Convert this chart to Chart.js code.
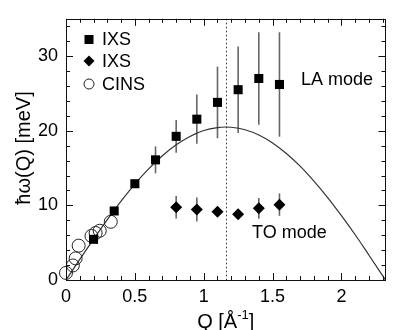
<!DOCTYPE html>
<html>
<head>
<meta charset="utf-8">
<script src="https://cdn.jsdelivr.net/npm/chart.js@4/dist/chart.umd.min.js"></script>
<style>
html,body{margin:0;padding:0;background:#fff;}
#wrap{width:393px;height:330px;}
</style>
</head>
<body>
<div id="wrap"><canvas id="c" width="393" height="330"></canvas></div>
<script>
// ---- data ----
const laQ   = [0.20, 0.35, 0.50, 0.65, 0.80, 0.95, 1.10, 1.25, 1.40, 1.55];
const laE   = [5.45, 9.25, 12.9, 16.1, 19.25, 21.55, 23.8, 25.5, 27.0, 26.2];
const laErr = [0, 0, 0, 1.8, 2.2, 3.3, 4.8, 5.8, 6.2, 7.0];

const toQ   = [0.80, 0.95, 1.10, 1.25, 1.40, 1.55];
const toE   = [9.75, 9.45, 9.15, 8.8, 9.6, 10.1];
const toErr = [1.5, 1.6, 0, 0, 1.4, 1.5];

const cinsQ = [0.0, 0.05, 0.07, 0.092, 0.185, 0.215, 0.245, 0.325];
const cinsE = [0.95, 1.95, 2.9, 4.6, 5.9, 6.3, 6.6, 7.8];

const curveQ = [0, 0.1, 0.2, 0.3, 0.4, 0.5, 0.6, 0.7, 0.8, 0.9, 1.0, 1.1, 1.16, 1.2, 1.3, 1.4, 1.5, 1.6, 1.7, 1.8, 1.9, 2.0, 2.1, 2.2, 2.3, 2.32];
const curveE = [0, 2.77, 5.48, 8.10, 10.57, 12.85, 14.88, 16.65, 18.11, 19.24, 20.03, 20.43, 20.5, 20.47, 20.13, 19.43, 18.37, 16.95, 15.25, 13.25, 11.05, 8.62, 6.06, 3.32, 0.56, 0];

const zoneBoundaryQ = 1.16;

const xTickValues = [0, 0.5, 1, 1.5, 2];
const xTickLabels = ["0", "0.5", "1", "1.5", "2"];
const yTickValues = [0, 10, 20, 30];
const yTickLabels = ["0", "10", "20", "30"];

const legendLabels = ["IXS", "IXS", "CINS"];
const laLabel = "LA mode";
const toLabel = "TO mode";
const yTitle = "ħω(Q) [meV]";

const FONT = "'Liberation Sans', Arial, Helvetica, sans-serif";

const pts = (xs, ys, es) => xs.map((x, i) => ({x: x, y: ys[i], err: es ? es[i] : 0}));

const overlay = {
  id: 'overlay',
  beforeDatasetsDraw(chart) {
    const ctx = chart.ctx, xs = chart.scales.x, ys = chart.scales.y, a = chart.chartArea;
    ctx.save();
    ctx.strokeStyle = '#222';
    ctx.lineWidth = 1;
    ctx.setLineDash([1.5, 2.5]);
    const xb = Math.round(xs.getPixelForValue(zoneBoundaryQ)) + 0.5;
    ctx.beginPath(); ctx.moveTo(xb, a.top); ctx.lineTo(xb, a.bottom); ctx.stroke();
    ctx.setLineDash([]);
    ctx.strokeStyle = '#666';
    ctx.lineWidth = 1.6;
    [1, 2].forEach(di => {
      chart.data.datasets[di].data.forEach(p => {
        if (!p.err) return;
        const px = xs.getPixelForValue(p.x);
        ctx.beginPath();
        ctx.moveTo(px, ys.getPixelForValue(p.y - p.err));
        ctx.lineTo(px, ys.getPixelForValue(p.y + p.err));
        ctx.stroke();
      });
    });
    ctx.restore();
  },
  afterDraw(chart) {
    const ctx = chart.ctx, xs = chart.scales.x, ys = chart.scales.y, a = chart.chartArea;
    ctx.save();
    ctx.strokeStyle = '#111';
    ctx.lineWidth = 1;
    ctx.strokeRect(Math.round(a.left) + 0.5, Math.round(a.top) + 0.5,
                   Math.round(a.right - a.left) - 1, Math.round(a.bottom - a.top));
    const tick = (x1, y1, x2, y2) => { ctx.beginPath(); ctx.moveTo(x1, y1); ctx.lineTo(x2, y2); ctx.stroke(); };
    for (let i = 0; i <= 23; i++) {
      const v = i / 10;
      const major = i % 5 === 0;
      const L = major ? 7 : 4;
      const px = Math.round(xs.getPixelForValue(v)) + 0.5;
      if (px > a.right) continue;
      tick(px, a.bottom, px, a.bottom - L);
      tick(px, a.top, px, a.top + L);
    }
    for (let v = 0; v <= 35; v += 2) {
      const major = v % 10 === 0;
      const L = major ? 7 : 4;
      const py = Math.round(ys.getPixelForValue(v)) + 0.5;
      tick(a.left, py, a.left + L, py);
      tick(a.right, py, a.right - L, py);
    }
    // legend
    ctx.fillStyle = '#000';
    const lx = 89;
    const ly = [39.5, 61, 84];
    ctx.fillRect(lx - 4.5, ly[0] - 4.5, 9, 9);
    ctx.beginPath();
    ctx.moveTo(lx - 5.5, ly[1]); ctx.lineTo(lx, ly[1] - 5.5); ctx.lineTo(lx + 5.5, ly[1]); ctx.lineTo(lx, ly[1] + 5.5);
    ctx.closePath(); ctx.fill();
    ctx.strokeStyle = '#222'; ctx.lineWidth = 1;
    ctx.beginPath(); ctx.arc(lx, ly[2], 5, 0, Math.PI * 2); ctx.stroke();
    ctx.font = '18px ' + FONT;
    ctx.textBaseline = 'middle';
    ctx.textAlign = 'left';
    legendLabels.forEach((t, i) => ctx.fillText(t, 102, ly[i] + 1));
    ctx.fillText(laLabel, 301, 80);
    ctx.fillText(toLabel, 252, 233);
    // x title with superscript
    ctx.textBaseline = 'alphabetic';
    const base = 328;
    const part1 = 'Q [Å', sup = '-1', part3 = ']';
    ctx.font = '20px ' + FONT;
    const w1 = ctx.measureText(part1).width, w3 = ctx.measureText(part3).width;
    ctx.font = '13px ' + FONT;
    const w2 = ctx.measureText(sup).width;
    let x0 = (a.left + a.right) / 2 - (w1 + w2 + w3) / 2;
    ctx.font = '20px ' + FONT;
    ctx.fillText(part1, x0, base);
    ctx.font = '13px ' + FONT;
    ctx.fillText(sup, x0 + w1, base - 9);
    ctx.font = '20px ' + FONT;
    ctx.fillText(part3, x0 + w1 + w2, base);
    // y title
    ctx.translate(24, 148);
    ctx.rotate(-Math.PI / 2);
    ctx.textAlign = 'center';
    ctx.textBaseline = 'middle';
    ctx.font = '20px ' + FONT;
    ctx.fillText(yTitle, 0, 0);
    ctx.restore();
  }
};

new Chart(document.getElementById('c'), {
  type: 'scatter',
  data: {
    datasets: [
      {
        type: 'line',
        data: pts(curveQ, curveE),
        borderColor: '#333',
        borderWidth: 1.2,
        pointRadius: 0,
        cubicInterpolationMode: 'monotone',
        fill: false,
        order: 4
      },
      {
        data: pts(laQ, laE, laErr),
        pointStyle: 'rect',
        pointRadius: 6.4,
        backgroundColor: '#000',
        borderColor: '#000',
        borderWidth: 0,
        clip: false,
        order: 1
      },
      {
        data: pts(toQ, toE, toErr),
        pointStyle: 'rectRot',
        pointRadius: 6,
        backgroundColor: '#000',
        borderColor: '#000',
        borderWidth: 0,
        clip: false,
        order: 2
      },
      {
        data: pts(cinsQ, cinsE),
        pointStyle: 'circle',
        pointRadius: 6.5,
        backgroundColor: 'rgba(0,0,0,0)',
        borderColor: '#222',
        borderWidth: 1,
        clip: false,
        order: 3
      }
    ]
  },
  options: {
    responsive: false,
    animation: false,
    devicePixelRatio: 1,
    layout: {padding: {left: 0, right: 1, top: 13, bottom: 0}},
    plugins: {legend: {display: false}, tooltip: {enabled: false}},
    scales: {
      x: {
        type: 'linear',
        min: 0,
        max: 2.32,
        grid: {display: false, drawTicks: false},
        border: {display: false},
        afterBuildTicks: s => { s.ticks = xTickValues.map(v => ({value: v})); },
        afterFit: s => { s.height = 50; },
        ticks: {
          padding: 6,
          color: '#000',
          font: {family: FONT, size: 18},
          maxRotation: 0,
          callback: (v) => { const i = xTickValues.indexOf(v); return i >= 0 ? xTickLabels[i] : ''; }
        }
      },
      y: {
        type: 'linear',
        min: 0,
        max: 35,
        grid: {display: false, drawTicks: false},
        border: {display: false},
        afterBuildTicks: s => { s.ticks = yTickValues.map(v => ({value: v})); },
        afterFit: s => { s.width = 66; },
        ticks: {
          padding: 8,
          color: '#000',
          font: {family: FONT, size: 18},
          callback: (v) => { const i = yTickValues.indexOf(v); return i >= 0 ? yTickLabels[i] : ''; }
        }
      }
    }
  },
  plugins: [overlay]
});
</script>
</body>
</html>
